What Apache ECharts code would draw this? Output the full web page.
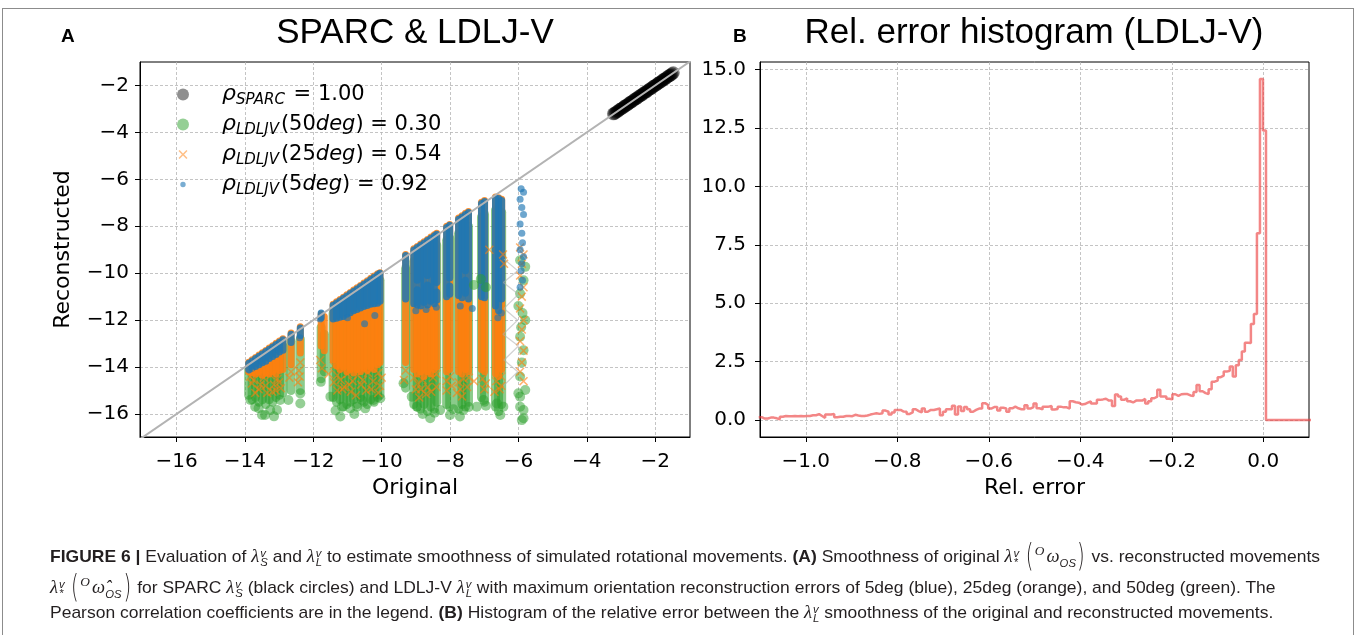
<!DOCTYPE html>
<html><head><meta charset="utf-8">
<script src="https://cdn.jsdelivr.net/npm/echarts@6/dist/echarts.min.js"></script>
<style>
html,body{margin:0;padding:0;background:#fff;}
#wrap{position:relative;width:1357px;height:635px;overflow:hidden;background:#fff;}
#chart{position:absolute;left:0;top:0;width:1357px;height:635px;}
#frame{position:absolute;left:2px;top:8px;width:1352px;height:700px;border:1px solid #8c8c8c;box-sizing:border-box;pointer-events:none;}
.cap{position:absolute;left:50px;height:30px;line-height:30px;white-space:nowrap;font-family:'Liberation Sans Narrow','Liberation Sans',sans-serif;font-size:17px;color:#231f20;transform-origin:0 50%;}
.cap b{font-weight:bold;}
.lm{font-family:'Liberation Serif',serif;font-style:italic;font-size:18px;}
.ss{display:inline-block;vertical-align:-4px;line-height:9px;font-size:11px;margin-left:1px;text-align:left;font-family:'Liberation Sans',sans-serif;font-style:italic;}
.ss span{display:block;}
.bp{display:inline-block;font-family:'DejaVu Sans',sans-serif;font-weight:200;font-size:32px;vertical-align:-4px;transform:scaleX(0.6);margin:0 -1px;}
.so{font-family:'Liberation Serif',serif;font-style:italic;font-size:13px;vertical-align:7px;margin-right:2px;}
.om{font-family:'Liberation Serif',serif;font-style:italic;font-size:18px;}
.om sub{font-family:'Liberation Sans',sans-serif;font-style:italic;font-size:11px;}
</style></head>
<body>
<div id="wrap">
<div id="chart"></div>
<div id="frame"></div>
<div class="cap" id="c1" style="top:536px"><b>FIGURE 6 |</b> Evaluation of <span class="lm">λ</span><span class="ss"><span>v</span><span>S</span></span> and <span class="lm">λ</span><span class="ss"><span>v</span><span>L</span></span> to estimate smoothness of simulated rotational movements. <b>(A)</b> Smoothness of original <span class="lm">λ</span><span class="ss"><span>v</span><span>*</span></span> <span class="bp">(</span><span class="so">O</span><span class="om">ω<sub>OS</sub></span><span class="bp">)</span> vs. reconstructed movements</div>
<div class="cap" id="c2" style="top:567px"><span class="lm">λ</span><span class="ss"><span>v</span><span>*</span></span> <span class="bp">(</span><span class="so">O</span><span class="om">ω̂<sub>OS</sub></span><span class="bp">)</span> for SPARC <span class="lm">λ</span><span class="ss"><span>v</span><span>S</span></span> (black circles) and LDLJ-V <span class="lm">λ</span><span class="ss"><span>v</span><span>L</span></span> with maximum orientation reconstruction errors of 5deg (blue), 25deg (orange), and 50deg (green). The</div>
<div class="cap" id="c3" style="top:597px">Pearson correlation coefficients are in the legend. <b>(B)</b> Histogram of the relative error between the <span class="lm">λ</span><span class="ss"><span>v</span><span>L</span></span> smoothness of the original and reconstructed movements.</div>
</div>
<script>
// ---------- tick values ----------
const xTicksL = [-16, -14, -12, -10, -8, -6, -4, -2];
const yTicksL = [-16, -14, -12, -10, -8, -6, -4, -2];
const xTicksR = [-1.0, -0.8, -0.6, -0.4, -0.2, 0.0];
const yTicksR = [0, 2.5, 5, 7.5, 10, 12.5, 15];

// ---------- SPARC (black) points ----------
const sparcPts = [[-3.22,-3.21],[-3.185,-3.19],[-3.15,-3.15],[-3.115,-3.11],[-3.08,-3.09],[-3.045,-3.04],[-3.01,-3.00],[-2.975,-2.98],[-2.94,-2.95],[-2.905,-2.90],[-2.87,-2.86],[-2.835,-2.84],[-2.80,-2.81],[-2.765,-2.76],[-2.73,-2.72],[-2.695,-2.70],[-2.66,-2.67],[-2.625,-2.62],[-2.59,-2.58],[-2.555,-2.56],[-2.52,-2.53],[-2.485,-2.48],[-2.45,-2.44],[-2.415,-2.42],[-2.38,-2.39],[-2.345,-2.34],[-2.31,-2.30],[-2.275,-2.28],[-2.24,-2.25],[-2.205,-2.20],[-2.17,-2.16],[-2.135,-2.14],[-2.10,-2.11],[-2.065,-2.06],[-2.03,-2.02],[-1.995,-2.00],[-1.96,-1.97],[-1.925,-1.92],[-1.89,-1.88],[-1.855,-1.86],[-1.82,-1.83],[-1.785,-1.78],[-1.75,-1.74],[-1.715,-1.72],[-1.68,-1.69],[-1.645,-1.64],[-1.61,-1.60],[-1.575,-1.58],[-1.54,-1.55],[-1.505,-1.50],[-1.47,-1.46]];

// ---------- dense columns: [original x, top reconstructed, bottom reconstructed] ----------
const greenCols = [
[-13.89,-14.1,-15.2],[-13.79,-14.0,-15.4],[-13.69,-13.9,-15.3],[-13.59,-13.8,-15.5],[-13.49,-13.7,-15.4],[-13.39,-13.6,-15.6],[-13.29,-13.5,-15.4],[-13.19,-13.4,-15.5],[-13.09,-13.3,-15.3],[-12.99,-13.2,-15.2],[-12.89,-13.1,-15.1],[-12.65,-12.9,-15.0],[-12.38,-12.8,-15.0],
[-11.77,-12.3,-14.5],[-11.68,-12.6,-14.2],
[-11.42,-11.7,-15.3],[-11.32,-11.6,-15.5],[-11.22,-11.5,-15.4],[-11.12,-11.4,-15.7],[-11.02,-11.3,-15.6],[-10.92,-11.2,-15.5],[-10.82,-11.1,-15.4],[-10.72,-11.0,-15.6],[-10.62,-10.9,-15.3],[-10.52,-10.8,-15.5],[-10.42,-10.7,-15.6],[-10.32,-10.6,-15.4],[-10.22,-10.5,-15.5],[-10.12,-10.4,-15.3],[-10.05,-10.3,-15.2],
[-9.30,-9.8,-14.9],
[-9.06,-9.5,-15.6],[-8.96,-9.4,-15.7],[-8.86,-9.3,-15.8],[-8.76,-9.2,-15.6],[-8.66,-9.1,-15.9],[-8.56,-9.0,-15.7],[-8.46,-8.9,-15.8],[-8.39,-8.8,-15.5],
[-8.10,-8.6,-15.6],[-8.01,-8.5,-15.7],
[-7.75,-8.3,-15.8],[-7.65,-8.2,-15.6],[-7.55,-8.1,-15.7],[-7.46,-8.0,-15.5],
[-7.08,-7.6,-15.3],[-6.99,-7.5,-15.5],
[-6.67,-7.3,-15.7],[-6.58,-7.3,-15.9],[-6.49,-7.4,-15.6]
];
const orangeCols = [
[-13.89,-13.79,-14.20],[-13.79,-13.69,-14.25],[-13.69,-13.59,-14.30],[-13.59,-13.49,-14.20],[-13.49,-13.39,-14.35],[-13.39,-13.29,-14.25],[-13.29,-13.19,-14.30],[-13.19,-13.09,-14.20],[-13.09,-12.99,-14.30],[-12.99,-12.89,-14.15],[-12.89,-12.79,-14.10],[-12.65,-12.55,-13.90],[-12.38,-12.28,-13.40],
[-11.77,-11.75,-13.10],[-11.68,-11.85,-13.30],
[-11.42,-11.32,-13.70],[-11.32,-11.22,-13.95],[-11.22,-11.12,-14.10],[-11.12,-11.02,-14.00],[-11.02,-10.92,-14.20],[-10.92,-10.82,-14.10],[-10.82,-10.72,-14.25],[-10.72,-10.62,-14.10],[-10.62,-10.52,-14.20],[-10.52,-10.42,-14.05],[-10.42,-10.32,-14.15],[-10.32,-10.22,-14.00],[-10.22,-10.12,-14.10],[-10.12,-10.02,-13.90],[-10.05,-9.98,-13.80],
[-9.30,-9.20,-13.80],
[-9.06,-8.96,-14.10],[-8.96,-8.86,-14.30],[-8.86,-8.76,-14.20],[-8.76,-8.66,-14.40],[-8.66,-8.56,-14.20],[-8.56,-8.46,-14.30],[-8.46,-8.36,-14.10],[-8.39,-8.30,-14.00],
[-8.10,-8.00,-14.20],[-8.01,-7.92,-14.10],
[-7.75,-7.65,-14.20],[-7.65,-7.55,-14.30],[-7.55,-7.45,-14.10],[-7.46,-7.37,-14.20],
[-7.08,-6.98,-14.10],[-6.99,-6.90,-14.20],
[-6.67,-6.75,-14.30],[-6.58,-6.78,-14.40],[-6.49,-6.85,-14.10]
];
const blueCols = [
[-13.89,-13.84,-14.12],[-13.79,-13.74,-14.05],[-13.69,-13.64,-13.98],[-13.59,-13.54,-13.90],[-13.49,-13.44,-13.82],[-13.39,-13.34,-13.75],[-13.29,-13.24,-13.64],[-13.19,-13.14,-13.55],[-13.09,-13.04,-13.46],[-12.99,-12.94,-13.36],[-12.89,-12.84,-13.28],[-12.65,-12.60,-12.95],[-12.38,-12.33,-12.65],
[-11.77,-11.70,-11.90],
[-11.42,-11.37,-11.95],[-11.32,-11.27,-11.92],[-11.22,-11.17,-11.88],[-11.12,-11.07,-11.85],[-11.02,-10.97,-11.75],[-10.92,-10.87,-11.68],[-10.82,-10.77,-11.60],[-10.72,-10.67,-11.55],[-10.62,-10.57,-11.48],[-10.52,-10.47,-11.42],[-10.42,-10.37,-11.38],[-10.32,-10.27,-11.32],[-10.22,-10.17,-11.30],[-10.12,-10.07,-11.28],[-10.05,-10.00,-11.20],
[-9.30,-9.25,-11.10],
[-9.06,-9.01,-11.30],[-8.96,-8.91,-10.30],[-8.96,-10.70,-11.35],[-8.86,-8.81,-11.40],[-8.76,-8.71,-11.25],[-8.66,-8.61,-10.10],[-8.66,-10.50,-11.35],[-8.56,-8.51,-11.20],[-8.46,-8.41,-11.30],[-8.39,-8.34,-10.40],[-8.39,-10.80,-11.15],
[-8.10,-8.05,-11.00],[-8.01,-7.96,-10.20],[-8.01,-10.55,-10.90],
[-7.75,-7.70,-10.95],[-7.65,-7.60,-11.05],[-7.55,-7.50,-9.90],[-7.55,-10.30,-10.85],[-7.46,-7.41,-11.10],
[-7.08,-7.03,-11.00],[-6.99,-6.94,-11.05],
[-6.67,-6.80,-11.40],[-6.58,-6.82,-11.60],[-6.49,-6.90,-11.10]
];

// ---------- scattered individual points ----------
const greenPts = [
[-13.84,-15.40],[-13.70,-15.69],[-13.50,-16.04],[-13.41,-16.04],[-13.26,-15.83],[-13.06,-15.83],[-12.97,-15.40],[-12.73,-15.40],[-12.38,-15.55],[-12.38,-15.12],[-13.60,-15.75],[-13.15,-16.10],
[-11.78,-14.63],[-11.50,-15.26],[-11.21,-16.11],[-11.16,-15.69],[-10.92,-15.76],[-10.72,-15.69],[-10.48,-15.76],[-10.24,-15.40],[-10.04,-15.33],[-10.58,-15.40],[-11.35,-15.85],[-10.80,-16.00],
[-9.36,-14.69],[-9.12,-15.26],[-8.97,-15.69],[-8.58,-16.18],[-8.29,-15.83],[-8.00,-16.04],[-7.71,-16.11],[-7.61,-15.83],[-7.22,-15.69],[-7.02,-15.40],[-6.63,-15.55],[-6.53,-16.04],[-6.44,-15.69],[-8.80,-16.00],[-8.45,-15.95],[-7.90,-15.80],[-7.45,-15.70],[-6.95,-15.65],
[-7.30,-10.50],[-7.10,-10.25],[-6.95,-10.60],
[-5.95,-15.69],[-5.85,-16.18],[-5.95,-15.26],[-5.80,-14.98],[-5.95,-9.45],[-5.80,-9.73],[-5.85,-10.30],[-5.95,-10.87],[-6.00,-11.40],[-5.80,-12.00],[-5.95,-12.71],[-5.85,-13.28],[-6.00,-15.12],[-5.85,-15.83],[-5.90,-16.26],[-5.90,-13.80],[-5.95,-14.40],[-5.88,-11.70],[-5.92,-12.30]
];
const orangePts = [
[-13.80,-14.70],[-13.60,-14.95],[-13.40,-14.80],[-13.20,-15.05],[-13.00,-14.65],[-12.70,-14.45],[-12.42,-14.15],[-12.45,-14.65],[-13.70,-15.10],[-13.10,-15.00],[-13.85,-14.40],[-13.75,-14.55],[-13.65,-14.30],[-13.55,-14.75],[-13.45,-14.45],[-13.35,-15.10],[-13.25,-14.35],[-13.15,-14.75],[-13.05,-14.50],[-12.95,-14.90],[-12.65,-14.20],[-12.38,-13.80],[-12.40,-14.40],
[-11.80,-13.70],[-11.75,-14.05],[-11.40,-14.65],[-11.10,-14.85],[-10.90,-15.05],[-10.60,-14.75],[-10.30,-14.95],[-10.10,-15.10],[-10.00,-14.45],[-11.30,-15.00],[-11.55,-14.30],[-10.75,-15.20],[-11.40,-13.95],[-11.30,-14.35],[-11.20,-14.55],[-11.00,-14.30],[-10.85,-14.60],[-10.70,-14.35],[-10.55,-14.55],[-10.40,-14.25],[-10.25,-14.60],[-10.10,-14.25],[-10.05,-14.80],[-11.15,-14.95],[-10.95,-14.75],[-10.45,-15.00],
[-9.35,-14.55],[-9.00,-14.95],[-8.70,-15.15],[-8.40,-14.85],[-8.10,-15.00],[-7.80,-15.10],[-7.50,-14.85],[-7.30,-14.60],[-7.00,-14.95],[-6.70,-15.05],[-6.50,-14.80],[-8.90,-15.30],[-7.65,-15.25],[-9.30,-14.15],[-9.05,-14.45],[-8.95,-14.70],[-8.80,-14.55],[-8.65,-14.85],[-8.50,-14.45],[-8.40,-14.30],[-8.10,-14.60],[-8.00,-14.40],[-7.75,-14.65],[-7.60,-14.50],[-7.45,-14.45],[-7.05,-14.50],[-6.95,-14.70],[-6.65,-14.60],[-6.55,-14.95],[-6.50,-14.40],[-8.85,-14.95],[-8.55,-15.05],[-7.95,-14.80],[-7.70,-14.95],
[-5.95,-8.90],[-5.85,-9.20],[-5.90,-9.60],[-5.95,-10.10],[-5.85,-10.60],[-5.90,-11.00],[-5.95,-11.50],[-5.85,-12.00],[-5.90,-12.40],[-5.95,-12.90],[-5.85,-13.30],[-5.90,-13.80],[-5.95,-14.20],[-5.85,-14.60],[-6.42,-9.60],[-6.45,-9.20],[-6.85,-9.00]
];
const bluePts = [
[-5.92,-6.40],[-5.85,-6.55],[-5.95,-6.85],[-5.90,-7.20],[-5.85,-7.50],[-5.95,-7.90],[-5.90,-8.30],[-5.88,-8.70],[-5.95,-9.00],[-5.85,-9.30],[-5.90,-9.60],[-5.92,-9.90],[-5.88,-10.30],[-5.95,-10.60],
[-11.00,-11.90],[-10.50,-12.15],[-10.20,-11.80],[-9.00,-11.60],[-8.70,-11.55],[-8.40,-11.45],[-7.70,-11.40],[-7.35,-11.50],[-6.60,-11.90],[-6.50,-11.70],[-11.80,-11.95],[-12.40,-12.75]
];
// faint connecting lines between reconstructions
const linkPts = [[-6.42,-9.4],[-6.02,-9.9],[-6.44,-10.4],[-6.00,-10.9],[-6.42,-11.5],[-6.02,-12.0],[-6.45,-12.6],[-6.00,-13.1],[-6.42,-13.7],[-6.02,-14.2],[-6.44,-14.8]];
const diagPts = [[-17.5,-17.5],[-0.5,-0.5]];

// ---------- histogram (density of relative error) ----------
const histStart = -1.1028;
const histWidth = 0.0066;
const histValues = [
0.12,0.06,0.06,0.10,0.10,0.07,0.03,0.14,0.17,0.16,
0.16,0.17,0.16,0.17,0.16,0.17,0.17,0.20,0.20,0.25,
0.17,0.09,0.23,0.23,0.26,0.12,0.14,0.14,0.17,0.17,
0.16,0.22,0.19,0.17,0.17,0.19,0.23,0.26,0.29,0.26,
0.29,0.40,0.35,0.23,0.32,0.43,0.43,0.36,0.35,0.26,
0.32,0.46,0.38,0.32,0.49,0.35,0.43,0.43,0.46,0.49,
0.20,0.35,0.46,0.46,0.61,0.23,0.58,0.38,0.55,0.46,
0.35,0.43,0.49,0.49,0.72,0.64,0.49,0.55,0.55,0.40,
0.52,0.49,0.35,0.50,0.57,0.50,0.46,0.46,0.63,0.49,
0.55,0.71,0.50,0.45,0.57,0.57,0.60,0.45,0.47,0.57,
0.54,0.54,0.49,0.80,0.76,0.74,0.66,0.68,0.74,0.80,
0.70,0.70,0.86,0.88,0.91,0.83,0.83,0.60,1.09,1.00,
0.86,0.93,0.80,0.75,0.83,0.83,0.83,0.90,0.70,0.80,
0.93,1.00,1.29,1.00,1.00,0.91,0.88,1.10,1.03,1.10,
1.11,1.11,1.05,1.03,1.20,1.50,1.23,1.15,1.11,1.31,
1.64,1.69,1.83,1.90,2.07,2.11,2.29,1.86,2.34,2.57,
2.93,3.31,3.30,4.11,4.54,8.00,14.60,12.40
];

// ---------- build ----------
const histData = histValues.map((v, i) => [histStart + i * histWidth, v]);
histData.push([histStart + histValues.length * histWidth, 0]);
histData.push([0.3, 0]);

function fmt(d) { return v => (v < 0 ? '\u2212' : '') + Math.abs(v).toFixed(d); }
function capsule(color, width, opacity) {
  return function (params, api) {
    const p1 = api.coord([api.value(0), api.value(1)]);
    const p2 = api.coord([api.value(0), api.value(2)]);
    return { type: 'line', shape: { x1: p1[0], y1: p1[1], x2: p2[0], y2: p2[1] },
      style: { stroke: color, lineWidth: width, lineCap: 'round', opacity: opacity } };
  };
}
const XPATH = 'path://M0,1.2L1.2,0L5,3.8L8.8,0L10,1.2L6.2,5L10,8.8L8.8,10L5,6.2L1.2,10L0,8.8L3.8,5Z';
const XLEG = 'path://M0,0h0.01v0.01h-0.01zM12,12h0.01v0.01h-0.01zM1.5,2.6L2.6,1.5L6,4.9L9.4,1.5L10.5,2.6L7.1,6L10.5,9.4L9.4,10.5L6,7.1L2.6,10.5L1.5,9.4L4.9,6Z';
const DOTLEG = 'path://M0,0h0.01v0.01h-0.01zM12,12h0.01v0.01h-0.01zM3.3,6a2.7,2.7 0 1,0 5.4,0a2.7,2.7 0 1,0 -5.4,0Z';

const FONT = 'DejaVu Sans';
const axisCommon = (ticks, d, margin) => ({
  type: 'value',
  axisLine: { show: true, onZero: false, lineStyle: { color: '#000', width: 1 } },
  axisTick: { show: true, customValues: ticks, length: 5, inside: false, lineStyle: { color: '#000', width: 1 } },
  axisLabel: { customValues: ticks, formatter: fmt(d), fontFamily: FONT, fontSize: 20, color: '#000', margin: margin },
  splitLine: { show: true, lineStyle: { color: '#b5b5b5', width: 0.8, type: [3, 2] } },
  nameTextStyle: { fontFamily: FONT, fontSize: 22, color: '#000' }
});

const legendNames = {
  sparc: '{r|ρ}{s|SPARC}{n| = 1.00}',
  g50: '{r|ρ}{s|LDLJV}{n|(50}{i|deg}{n|) = 0.30}',
  o25: '{r|ρ}{s|LDLJV}{n|(25}{i|deg}{n|) = 0.54}',
  b5: '{r|ρ}{s|LDLJV}{n|(5}{i|deg}{n|) = 0.92}'
};

const option = {
  animation: false,
  backgroundColor: '#fff',
  title: [
    { text: 'SPARC & LDLJ-V', left: 415, top: 16, textAlign: 'center', padding: 0,
      textStyle: { fontFamily: 'Liberation Sans', fontSize: 35, fontWeight: 'normal', color: '#000' } },
    { text: 'Rel. error histogram (LDLJ-V)', left: 1034, top: 16, textAlign: 'center', padding: 0,
      textStyle: { fontFamily: 'Liberation Sans', fontSize: 35, fontWeight: 'normal', color: '#000' } },
    { text: 'A', left: 61, top: 27, padding: 0, textStyle: { fontFamily: 'Liberation Sans', fontSize: 19, fontWeight: 'bold', color: '#000' } },
    { text: 'B', left: 733, top: 27, padding: 0, textStyle: { fontFamily: 'Liberation Sans', fontSize: 19, fontWeight: 'bold', color: '#000' } }
  ],
  legend: {
    left: 177, top: 81, orient: 'vertical', itemWidth: 12, itemHeight: 12, itemGap: 3, selectedMode: false, padding: 0,
    data: [
      { name: 'sparc', icon: 'circle', itemStyle: { color: 'rgba(0,0,0,0.55)' } },
      { name: 'g50', icon: 'circle', itemStyle: { color: 'rgba(44,160,44,0.5)' } },
      { name: 'o25', icon: XLEG, itemStyle: { color: 'rgba(255,127,14,0.5)' } },
      { name: 'b5', icon: DOTLEG, itemStyle: { color: 'rgba(31,119,180,0.6)' } }
    ],
    formatter: n => legendNames[n],
    textStyle: {
      fontFamily: FONT, fontSize: 21, color: '#000',
      rich: {
        r: { fontFamily: FONT, fontStyle: 'italic', fontSize: 22, lineHeight: 22, padding: [0, 0, 0, 28] },
        s: { fontFamily: FONT, fontStyle: 'italic', fontSize: 15, lineHeight: 22, padding: [12, 2, 0, 0] },
        n: { fontFamily: FONT, fontSize: 21, lineHeight: 22 },
        i: { fontFamily: FONT, fontStyle: 'italic', fontSize: 21, lineHeight: 22 }
      }
    }
  },
  grid: [
    { left: 140, top: 62, width: 550, height: 375, show: true, borderColor: '#000', borderWidth: 1, backgroundColor: 'transparent' },
    { left: 760, top: 62, width: 549, height: 375, show: true, borderColor: '#000', borderWidth: 1, backgroundColor: 'transparent' }
  ],
  xAxis: [
    Object.assign(axisCommon(xTicksL, 0, 15), { gridIndex: 0, min: -17.07, max: -0.98, name: 'Original', nameLocation: 'middle', nameGap: 40 }),
    Object.assign(axisCommon(xTicksR, 1, 15), { gridIndex: 1, min: -1.1, max: 0.1, name: 'Rel. error', nameLocation: 'middle', nameGap: 40 })
  ],
  yAxis: [
    Object.assign(axisCommon(yTicksL, 0, 11), { gridIndex: 0, min: -16.98, max: -1.0, name: 'Reconstructed', nameLocation: 'middle', nameGap: 66 }),
    Object.assign(axisCommon(yTicksR, 1, 14), { gridIndex: 1, min: -0.73, max: 15.33 })
  ],
  series: [
    { type: 'line', name: 'diag', xAxisIndex: 0, yAxisIndex: 0, data: diagPts, showSymbol: false, silent: true,
      lineStyle: { color: '#b3b3b3', width: 2 } },
    { type: 'line', name: 'link', xAxisIndex: 0, yAxisIndex: 0, data: linkPts, showSymbol: false, silent: true,
      lineStyle: { color: 'rgba(175,175,175,0.55)', width: 1.3 } },
    { type: 'scatter', name: 'sparc', xAxisIndex: 0, yAxisIndex: 0, data: sparcPts, symbol: 'circle', symbolSize: 13,
      itemStyle: { color: 'rgba(0,0,0,0.6)' }, silent: true },
    { type: 'custom', name: 'g50', xAxisIndex: 0, yAxisIndex: 0, data: greenCols, encode: { x: 0, y: [1, 2] },
      renderItem: capsule('#2ca02c', 9, 0.55), silent: true },
    { type: 'scatter', name: 'g50', xAxisIndex: 0, yAxisIndex: 0, data: greenPts, symbol: 'circle', symbolSize: 10,
      itemStyle: { color: '#2ca02c', opacity: 0.5 }, silent: true },
    { type: 'custom', name: 'o25', xAxisIndex: 0, yAxisIndex: 0, data: orangeCols, encode: { x: 0, y: [1, 2] },
      renderItem: capsule('#ff7f0e', 7, 0.85), silent: true },
    { type: 'scatter', name: 'o25', xAxisIndex: 0, yAxisIndex: 0, data: orangePts, symbol: XPATH, symbolSize: 9,
      itemStyle: { color: '#ff7f0e', opacity: 0.6 }, silent: true },
    { type: 'custom', name: 'b5', xAxisIndex: 0, yAxisIndex: 0, data: blueCols, encode: { x: 0, y: [1, 2] },
      renderItem: capsule('#1f77b4', 7, 0.85), silent: true },
    { type: 'scatter', name: 'b5', xAxisIndex: 0, yAxisIndex: 0, data: bluePts, symbol: 'circle', symbolSize: 7,
      itemStyle: { color: '#1f77b4', opacity: 0.65 }, silent: true },
    { type: 'line', name: 'hist', xAxisIndex: 1, yAxisIndex: 1, data: histData, step: 'end', showSymbol: false, silent: true,
      lineStyle: { color: 'rgba(235,60,60,0.62)', width: 2.5 } }
  ]
};
const chart = echarts.init(document.getElementById('chart'), null, { renderer: 'canvas' });
chart.setOption(option);

// fit caption lines to the reference width
(function () {
  const c1 = document.getElementById('c1');
  const w = c1.getBoundingClientRect().width;
  const s = 1270 / w;
  ['c1', 'c2', 'c3'].forEach(id => { document.getElementById(id).style.transform = 'scaleX(' + s + ')'; });
})();
</script>
</body></html>
